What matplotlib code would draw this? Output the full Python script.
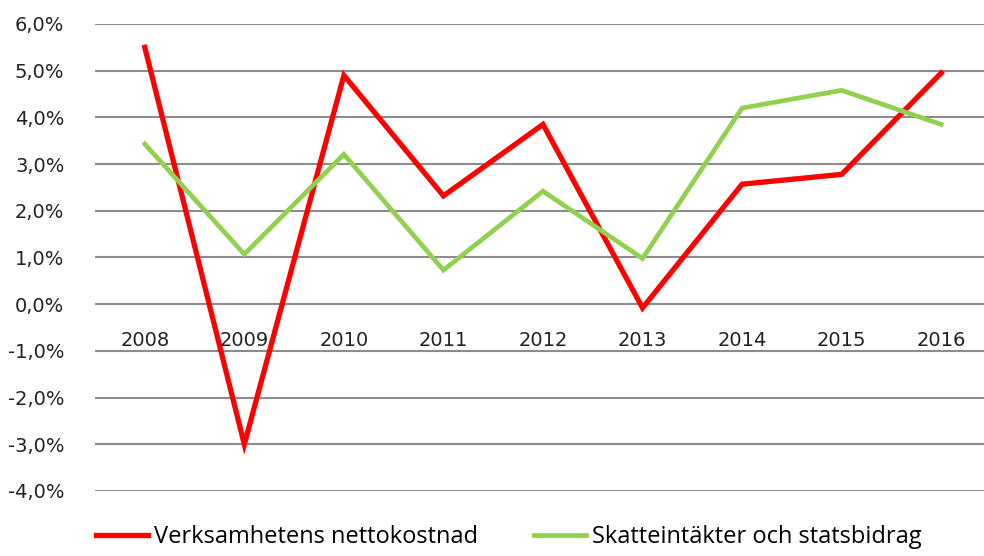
import numpy as np
import matplotlib.pyplot as plt
from matplotlib.ticker import FuncFormatter

years = ['2008', '2009', '2010', '2011', '2012', '2013', '2014', '2015', '2016']
nettokostnad = [5.50, -3.00, 4.90, 2.32, 3.85, -0.08, 2.57, 2.78, 4.95]
skatteintakter = [3.43, 1.07, 3.21, 0.73, 2.42, 0.98, 4.20, 4.58, 3.85]

plt.rcParams['font.family'] = ['DejaVu Sans']

fig = plt.figure(figsize=(9.84, 5.56), dpi=100)
ax = fig.add_axes([95 / 984, 1 - 491 / 556, 1 - 95 / 984, (491 - 24) / 556])

x = np.arange(len(years))
ax.plot(x, nettokostnad, color='#ff0000', lw=3.8, label='Verksamhetens nettokostnad',
        solid_joinstyle='miter')
ax.plot(x, skatteintakter, color='#92d050', lw=3.4, label='Skatteintäkter och statsbidrag',
        solid_joinstyle='miter')

ax.set_ylim(-4, 6)
ax.set_xlim(-0.5, 8.43)
ax.set_yticks(np.arange(-4, 7, 1))
ax.yaxis.set_major_formatter(FuncFormatter(lambda v, p: ('%.1f%%' % v).replace('.', ',')))
ax.grid(axis='y', color='#8c8c8c', lw=1.5)
ax.set_axisbelow(True)
for s in ax.spines.values():
    s.set_visible(False)
ax.tick_params(axis='y', length=0, pad=22, labelsize=14, labelcolor='#222222')

# category labels sit just under the zero line
ax.set_xticks([])
for i, yr in enumerate(years):
    ax.text(i, -0.77, yr, ha='center', va='center', fontsize=14, color='#222222')

leg = fig.legend(loc='lower center', ncol=2, frameon=False,
                 bbox_to_anchor=(0.517, -0.018), handlelength=2.2, handletextpad=0.25,
                 columnspacing=2.4, borderpad=0.2, prop={'family': 'Open Sans', 'size': 17})

fig.savefig('out.png', dpi=100)
